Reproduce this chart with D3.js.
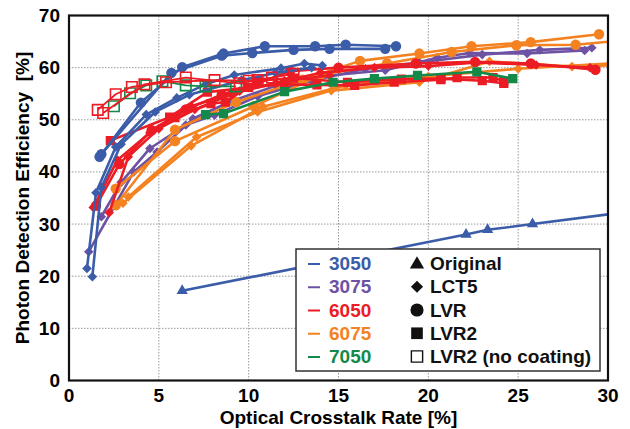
<!DOCTYPE html>
<html>
<head>
<meta charset="utf-8">
<script src="https://cdn.jsdelivr.net/npm/d3@7"></script>
<style>
  body { margin: 0; background: #fff; }
  text { font-family: "Liberation Sans", Arial, sans-serif; font-weight: bold; }
</style>
</head>
<body>
<div id="chart"></div>
<script>
// crosstalk [%] vs PDE [%] pairs, one list per curve
const blueOriginal = [[6.3,17.2],[22.1,28.0],[23.3,28.9],[25.8,30.0],[31.0,32.3]];
const blueLct5A = [[1.0,21.5],[1.5,36.0],[2.6,44.8],[4.3,51.0],[6.0,54.2],[7.6,56.8],[9.2,58.6],[11.8,59.9],[13.1,60.8],[14.1,60.4]];
const blueLct5B = [[1.3,19.9],[1.8,37.0],[2.9,45.3],[4.8,51.5],[6.7,54.8],[9.6,57.6],[11.5,59.0],[13.5,60.0]];
const blueLvrA = [[1.7,42.9],[4.0,53.3],[6.3,60.1],[8.6,62.7],[10.9,64.1],[13.7,64.1],[15.4,64.4],[18.2,64.1]];
const blueLvrB = [[1.8,43.4],[5.7,59.0],[8.5,62.3],[10.2,62.8],[12.5,63.4],[14.5,63.6],[17.6,63.6]];
const purpleLct5A = [[1.1,24.7],[3.6,40.0],[4.9,43.8],[6.9,50.2],[9.0,53.5],[11.5,56.5],[14.5,58.5],[17.6,59.5],[20.5,61.9],[22.3,62.8],[25.5,62.7],[28.7,63.3]];
const purpleLct5B = [[1.8,31.4],[2.9,38.0],[4.5,44.5],[6.5,49.0],[8.1,50.9],[10.5,54.5],[13.5,57.5],[16.5,59.8],[19.5,61.0],[23.0,62.5],[26.2,63.4],[29.1,63.8]];
const redLvr = [[1.5,33.5],[2.8,41.5],[4.6,48.0],[6.5,52.0],[8.5,54.8],[10.5,57.0],[12.3,59.3],[15.0,60.0],[19.3,60.8],[22.6,61.1],[25.7,60.8],[29.3,59.6]];
const redLct5A = [[1.35,33.2],[2.7,42.3],[4.5,47.5],[6.8,52.6],[9.0,55.0],[11.5,57.0],[14.0,59.0],[17.0,60.0],[20.0,60.3],[22.7,61.0],[26.0,60.5],[29.0,60.0]];
const redLct5B = [[2.24,32.2],[3.3,42.9],[5.0,48.3],[7.0,52.0],[9.5,55.5],[12.0,57.5],[14.5,58.5]];
const redLvr2A = [[2.3,46.0],[5.6,50.5],[7.7,55.3],[10.0,56.2],[12.0,56.8],[13.8,56.7],[15.9,56.6],[18.1,57.2],[20.7,57.7],[21.6,58.1],[23.6,58.1],[24.2,57.4]];
const redLvr2B = [[5.9,50.4],[7.9,53.1],[8.7,53.4],[10.5,57.5],[12.5,58.0],[15.5,57.2],[18.5,57.8],[20.7,57.9],[23.0,57.5],[24.2,57.0]];
const redOpenA = [[1.6,51.9],[2.6,54.9],[3.5,56.3],[5.4,57.2],[8.1,57.6],[10.0,57.5],[11.3,58.1],[12.5,58.8]];
const redOpenB = [[1.9,51.3],[4.2,56.8],[6.5,58.1],[9.5,57.0],[10.5,57.6]];
const greenOpen = [[2.5,52.6],[3.4,55.1],[4.3,56.6],[5.2,57.4],[6.5,56.6],[7.6,56.4],[9.3,56.4]];
const greenLvr2 = [[7.6,51.0],[8.6,51.2],[12.0,55.4],[14.7,57.2],[17.0,57.9],[19.4,58.5],[22.7,59.2],[24.7,57.9]];
const orangeLvrA = [[2.6,33.6],[5.9,48.1],[9.3,53.4],[13.0,57.7],[16.2,61.3],[19.5,62.7],[22.4,64.1],[25.7,64.9],[29.5,66.4]];
const orangeLvrB = [[2.6,36.8],[5.9,45.9],[10.3,52.6],[14.0,58.6],[17.7,60.8],[21.3,63.0],[24.9,64.3],[28.2,64.4],[31.0,65.3]];
const orangeLct5A = [[3.3,35.2],[7.1,46.7],[10.5,51.5],[14.6,55.6],[19.5,57.2],[23.4,61.2],[28.0,60.2],[31.0,60.5]];
const orangeLct5B = [[3.0,34.0],[6.8,45.0],[10.8,52.5],[15.4,56.6],[20.0,58.3],[25.0,59.8],[31.0,61.0]];

const xTicks = [0, 5, 10, 15, 20, 25, 30];
const yTicks = [0, 10, 20, 30, 40, 50, 60, 70];
const wafers = ["3050", "3075", "6050", "6075", "7050"];
const coatings = ["Original", "LCT5", "LVR", "LVR2", "LVR2 (no coating)"];

const colors = {
  "3050": "#3b5ca8",
  "3075": "#6d52a3",
  "6050": "#ec1c24",
  "6075": "#f58220",
  "7050": "#13894a"
};

// draw order: back to front
const curves = [
  {pts: purpleLct5A, wafer: "3075", shape: "LCT5"},
  {pts: purpleLct5B, wafer: "3075", shape: "LCT5"},
  {pts: orangeLct5A, wafer: "6075", shape: "LCT5"},
  {pts: orangeLct5B, wafer: "6075", shape: "LCT5"},
  {pts: orangeLvrA, wafer: "6075", shape: "LVR"},
  {pts: orangeLvrB, wafer: "6075", shape: "LVR"},
  {pts: redLct5A, wafer: "6050", shape: "LCT5"},
  {pts: redLct5B, wafer: "6050", shape: "LCT5"},
  {pts: redLvr, wafer: "6050", shape: "LVR"},
  {pts: redLvr2A, wafer: "6050", shape: "LVR2"},
  {pts: redLvr2B, wafer: "6050", shape: "LVR2"},
  {pts: greenLvr2, wafer: "7050", shape: "LVR2"},
  {pts: blueOriginal, wafer: "3050", shape: "Original"},
  {pts: blueLct5A, wafer: "3050", shape: "LCT5"},
  {pts: blueLct5B, wafer: "3050", shape: "LCT5"},
  {pts: blueLvrA, wafer: "3050", shape: "LVR"},
  {pts: blueLvrB, wafer: "3050", shape: "LVR"},
  {pts: greenOpen, wafer: "7050", shape: "LVR2 (no coating)"},
  {pts: redOpenA, wafer: "6050", shape: "LVR2 (no coating)"},
  {pts: redOpenB, wafer: "6050", shape: "LVR2 (no coating)"}
];

const w = 630, h = 429;
const svg = d3.select("#chart").append("svg").attr("width", w).attr("height", h);

const x = d3.scaleLinear().domain([0, 30]).range([69, 608]);
const y = d3.scaleLinear().domain([0, 70]).range([380.5, 15.5]);

// grid
svg.append("g").selectAll("line").data(xTicks.slice(1, -1)).join("line")
  .attr("x1", d => x(d)).attr("x2", d => x(d))
  .attr("y1", y(0)).attr("y2", y(70))
  .attr("stroke", "#999").attr("stroke-width", 1).attr("stroke-dasharray", "1.5,1.5");
svg.append("g").selectAll("line").data(yTicks.slice(1, -1)).join("line")
  .attr("y1", d => y(d)).attr("y2", d => y(d))
  .attr("x1", x(0)).attr("x2", x(30))
  .attr("stroke", "#999").attr("stroke-width", 1).attr("stroke-dasharray", "1.5,1.5");

svg.append("clipPath").attr("id", "plotClip").append("rect")
  .attr("x", x(0)).attr("y", y(70)).attr("width", x(30) - x(0)).attr("height", y(0) - y(70));

const plot = svg.append("g").attr("clip-path", "url(#plotClip)");
const line = d3.line().x(d => x(d[0])).y(d => y(d[1]));

const symbolFor = (shape, big) => {
  const k = big ? 1.6 : 1;
  if (shape === "Original") return d3.symbol(d3.symbolTriangle, 55 * k)();
  if (shape === "LCT5") return d3.symbol(d3.symbolSquare, 46 * k)();
  if (shape === "LVR") return d3.symbol(d3.symbolCircle, 85 * k)();
  if (shape === "LVR2") return d3.symbol(d3.symbolSquare, 85 * k)();
  return d3.symbol(d3.symbolSquare, 110 * (big ? 1.15 : 1))();
};

curves.forEach(c => {
  const col = colors[c.wafer];
  const open = c.shape === "LVR2 (no coating)";
  plot.append("path").datum(c.pts)
    .attr("d", line)
    .attr("fill", "none")
    .attr("stroke", col)
    .attr("stroke-width", open ? 1.8 : 2.6)
    .attr("stroke-linejoin", "round");
  plot.append("g").selectAll("path").data(c.pts).join("path")
    .attr("d", symbolFor(c.shape))
    .attr("transform", d => `translate(${x(d[0])},${y(d[1])})` + (c.shape === "LCT5" ? " rotate(45)" : ""))
    .attr("fill", open ? "none" : col)
    .attr("stroke", open ? col : "none")
    .attr("stroke-width", 1.6);
});

// frame
svg.append("rect")
  .attr("x", x(0)).attr("y", y(70)).attr("width", x(30) - x(0)).attr("height", y(0) - y(70))
  .attr("fill", "none").attr("stroke", "#111").attr("stroke-width", 2.2);

// tick labels
svg.append("g").selectAll("text").data(xTicks).join("text")
  .attr("x", d => x(d)).attr("y", 402)
  .attr("text-anchor", "middle").attr("font-size", 19)
  .text(d => d);
svg.append("g").selectAll("text").data(yTicks).join("text")
  .attr("x", 60).attr("y", d => y(d) + 6.5)
  .attr("text-anchor", "end").attr("font-size", 19)
  .text(d => d);

// axis titles
svg.append("text")
  .attr("x", x(15)).attr("y", 424)
  .attr("text-anchor", "middle").attr("font-size", 19)
  .text("Optical Crosstalk Rate [%]");
svg.append("text")
  .attr("transform", `translate(29,${y(35)}) rotate(-90)`)
  .attr("text-anchor", "middle").attr("font-size", 19)
  .attr("xml:space", "preserve")
  .text("Photon Detection Efficiency  [%]");

// legend
const legend = svg.append("g");
legend.append("rect")
  .attr("x", 296).attr("y", 249).attr("width", 304).attr("height", 122)
  .attr("fill", "#fff").attr("stroke", "#333").attr("stroke-width", 1.5);

const rowY = d3.scalePoint().domain(d3.range(5)).range([263, 356]);

legend.selectAll(".wline").data(wafers).join("line")
  .attr("x1", 308).attr("x2", 320)
  .attr("y1", (d, i) => rowY(i) + 1).attr("y2", (d, i) => rowY(i) + 1)
  .attr("stroke", d => colors[d]).attr("stroke-width", 2);
legend.selectAll(".wtext").data(wafers).join("text")
  .attr("x", 329).attr("y", (d, i) => rowY(i) + 7)
  .attr("font-size", 19).attr("fill", d => colors[d])
  .text(d => d);

legend.selectAll(".mark").data(coatings).join("path")
  .attr("d", d => symbolFor(d, true))
  .attr("transform", (d, i) => `translate(417,${rowY(i) + (d === "Original" ? 1.5 : 0.5)})` + (d === "LCT5" ? " rotate(45)" : ""))
  .attr("fill", d => d === "LVR2 (no coating)" ? "none" : "#111")
  .attr("stroke", d => d === "LVR2 (no coating)" ? "#111" : "none")
  .attr("stroke-width", 1.4);
legend.selectAll(".ctext").data(coatings).join("text")
  .attr("x", 430).attr("y", (d, i) => rowY(i) + 7)
  .attr("font-size", 19).attr("fill", "#111")
  .text(d => d);
</script>
</body>
</html>
